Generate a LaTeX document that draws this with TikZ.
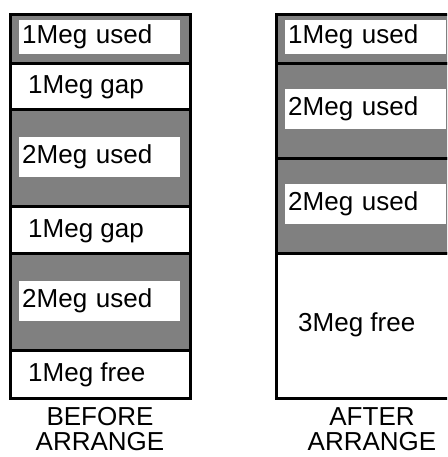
\documentclass[tikz,border=0pt]{standalone}
\usepackage{fontspec}
\setmainfont{Liberation Sans}
\begin{document}
\begin{tikzpicture}[x=1pt, y=-1pt, font=\fontsize{26}{25}\selectfont,
  used/.style={draw, line width=3pt, fill=gray, anchor=north west, minimum width=180pt, inner sep=0pt},
  free/.style={draw, line width=3pt, fill=white, anchor=north west, minimum width=180pt, inner sep=0pt},
  tag/.style={fill=white, anchor=west, text width=155pt, inner sep=3pt, align=left}]
\clip (0,0) rectangle (447,457);
% before
\node[used, minimum height=49pt] (b1) at (9,13) {};
\node[free, minimum height=46pt] (b2) at (9,62) {};
\node[used, minimum height=97pt] (b3) at (9,108) {};
\node[free, minimum height=47pt] (b4) at (9,205) {};
\node[used, minimum height=97pt] (b5) at (9,252) {};
\node[free, minimum height=48pt] (b6) at (9,349) {};
\node[tag, minimum height=34pt] (t1) at (19,37) {1Meg used};
\node[anchor=west, inner sep=0pt] (t2) at (28,87) {1Meg gap};
\node[tag, minimum height=40pt] (t3) at (19,157) {2Meg used};
\node[anchor=west, inner sep=0pt] (t4) at (28,231) {1Meg gap};
\node[tag, minimum height=40pt] (t5) at (19,301) {2Meg used};
\node[anchor=west, inner sep=0pt] (t6) at (28,375) {1Meg free};
\node[align=center, inner sep=0pt] (before) at (100,429) {BEFORE\\ARRANGE};
% after
\node[used, minimum height=49pt] (a1) at (275,13) {};
\node[used, minimum height=95pt] (a2) at (275,62) {};
\node[used, minimum height=95pt] (a3) at (275,157) {};
\node[free, minimum height=145pt] (a4) at (275,252) {};
\node[tag, minimum height=34pt] (s1) at (285,37) {1Meg used};
\node[tag, minimum height=40pt] (s2) at (285,109) {2Meg used};
\node[tag, minimum height=40pt] (s3) at (285,204) {2Meg used};
\node[anchor=west, inner sep=0pt] (s4) at (298,325) {3Meg free};
\node[align=center, inner sep=0pt] (after) at (372,429) {AFTER\\ARRANGE};
\end{tikzpicture}
\end{document}
